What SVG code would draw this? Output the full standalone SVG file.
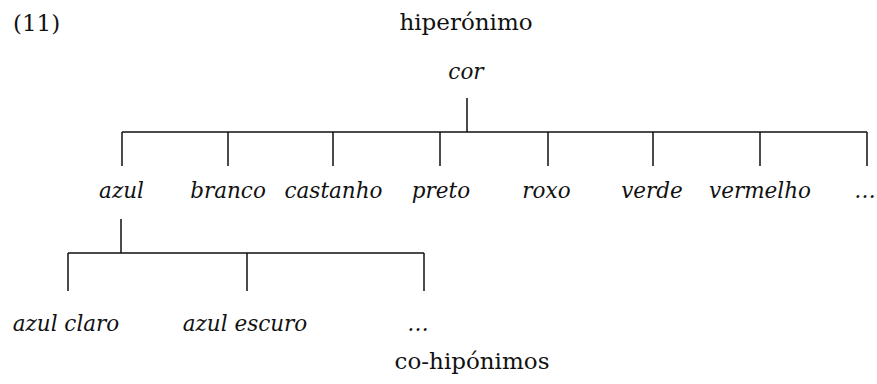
<svg xmlns="http://www.w3.org/2000/svg" width="877" height="384" viewBox="0 0 877 384">
<style>
text{font-family:"DejaVu Serif","Liberation Serif",serif;fill:#111}
.up{font-size:23px}
.it{font-size:21.5px;font-style:italic;text-anchor:middle}
.ln{stroke:#111;stroke-width:1.5;fill:none}
</style>
<rect width="877" height="384" fill="#fff"/>
<g id="title">
<text class="up" x="13" y="31">(11)</text>
<text class="up" x="466" y="30" text-anchor="middle">hiperónimo</text>
<text class="up" x="472" y="369" text-anchor="middle">co-hipónimos</text>
</g>
<g id="connectors" class="ln">
<path d="M467 98V132M122 132H867M122 132V166M228 132V166M333 132V166M440 132V166M548 132V166M653 132V166M760 132V166M867 132V166"/>
<path d="M121 219V253M68 253H424M68 253V291M247 253V291M424 253V291"/>
</g>
<g id="n-cor"><text class="it" x="466" y="79">cor</text></g>
<g id="n-azul"><text class="it" x="121.5" y="198">azul</text></g>
<g id="n-branco"><text class="it" x="228" y="198">branco</text></g>
<g id="n-castanho"><text class="it" x="333.5" y="198">castanho</text></g>
<g id="n-preto"><text class="it" x="441" y="198">preto</text></g>
<g id="n-roxo"><text class="it" x="546.5" y="198">roxo</text></g>
<g id="n-verde"><text class="it" x="652" y="198">verde</text></g>
<g id="n-vermelho"><text class="it" x="760" y="198">vermelho</text></g>
<g id="n-etc1"><text class="it" x="865" y="198">…</text></g>
<g id="n-azulclaro"><text class="it" x="66" y="331">azul claro</text></g>
<g id="n-azulescuro"><text class="it" x="245" y="331">azul escuro</text></g>
<g id="n-etc2"><text class="it" x="418" y="331">…</text></g>
</svg>
